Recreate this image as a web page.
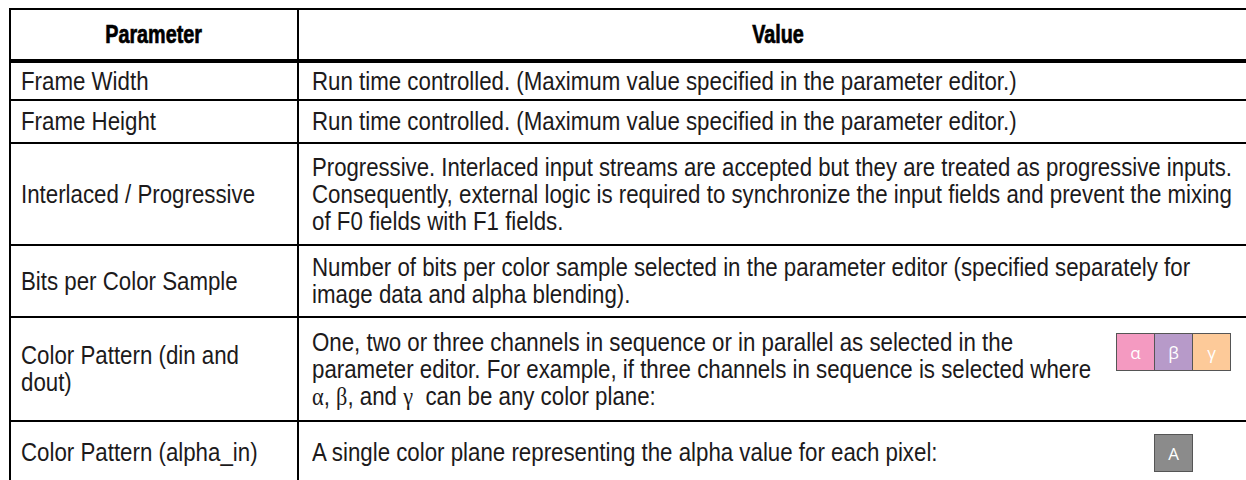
<!DOCTYPE html>
<html>
<head>
<meta charset="utf-8">
<script src="https://cdn.jsdelivr.net/npm/chart.js@4.4.1/dist/chart.umd.min.js"></script>
<style>
  html, body { margin: 0; padding: 0; background: #fff; overflow: hidden; }
  body { width: 1246px; height: 480px; position: relative; }
  table {
    position: absolute; left: 9px; top: 8px;
    width: 1250px; table-layout: fixed; border-collapse: collapse;
    font-family: "Liberation Sans", Arial, sans-serif;
    font-size: 26px; color: #1c1a1b;
  }
  col.c1 { width: 288px; }
  th, td { border: 2px solid #000; line-height: 27px; vertical-align: middle; white-space: nowrap; padding: 0; overflow: visible; }
  th { font-weight: 700; text-align: center; color: #000; border-bottom-width: 4px; font-size: 26px; }
  td.p { padding-left: 10px; }
  td.v { padding-left: 13px; position: relative; }
  .ln { display: inline-block; transform: scaleX(0.857); transform-origin: 0 50%; }
  th .ln { transform: scaleX(0.76); transform-origin: 50% 50%; -webkit-text-stroke: 0.7px #000; }
  tr.r0 { height: 52px; }
  tr.r1 { height: 39px; }
  tr.r2 { height: 43px; }
  tr.r3 { height: 102px; }
  tr.r4 { height: 72px; }
  tr.r5 { height: 104px; }
  tr.r6 { height: 62px; }
  .sym {
    display: inline-block; height: 18px; line-height: 18px; overflow: visible;
    font-family: "Liberation Serif", "DejaVu Serif", serif; font-size: 26px;
  }
  .swatch { position: absolute; display: flex; }
  .swatch span {
    width: 37px; height: 36px; border: 1px solid #555; margin-left: -1px;
    color: #fff; font-family: "Open Sans", "DejaVu Sans", sans-serif; font-size: 17px; line-height: 1;
    display: flex; align-items: center; justify-content: center;
  }
  .din { left: 818px; top: 15px; }
  .alpha { left: 856px; top: 12px; }
</style>
</head>
<body>
<table id="paramTable">
  <colgroup><col class="c1"><col class="c2"></colgroup>
  <thead></thead>
  <tbody></tbody>
</table>
<script>
// -------------------- DATA --------------------
const headers = ["Parameter", "Value"];

const parameters = [
  ["Frame Width"],
  ["Frame Height"],
  ["Interlaced / Progressive"],
  ["Bits per Color Sample"],
  ["Color Pattern (din and", "dout)"],
  ["Color Pattern (alpha_in)"]
];

const values = [
  ["Run time controlled. (Maximum value specified in the parameter editor.)"],
  ["Run time controlled. (Maximum value specified in the parameter editor.)"],
  ["Progressive. Interlaced input streams are accepted but they are treated as progressive inputs.",
   "Consequently, external logic is required to synchronize the input fields and prevent the mixing",
   "of F0 fields with F1 fields."],
  ["Number of bits per color sample selected in the parameter editor (specified separately for",
   "image data and alpha blending)."],
  ["One, two or three channels in sequence or in parallel as selected in the",
   "parameter editor. For example, if three channels in sequence is selected where",
   "α, β, and γ  can be any color plane:"],
  ["A single color plane representing the alpha value for each pixel:"]
];

const dinChannels = ["α", "β", "γ"];
const dinColors = ["#f49ac1", "#b79ac9", "#fdca99"];
const alphaChannels = ["A"];
const alphaColors = ["#8b8b8b"];

// -------------------- BUILD --------------------
function esc(s) {
  return s.replace(/&/g, "&amp;").replace(/</g, "&lt;").replace(/ {2}/g, " &nbsp;");
}

function line(s) {
  const html = esc(s).replace(/([αβγ])/g, '<span class="sym">$1</span>');
  return `<span class="ln">${html}</span>`;
}

function swatch(cls, labels, colors) {
  return `<div class="swatch ${cls}">` +
    labels.map((l, i) => `<span style="background:${colors[i]}">${l}</span>`).join("") +
    `</div>`;
}

const table = document.getElementById("paramTable");
table.tHead.innerHTML = `<tr class="r0">${headers.map(h => `<th>${line(h)}</th>`).join("")}</tr>`;

table.tBodies[0].innerHTML = parameters.map((p, i) => {
  let extra = "";
  if (i === 4) extra = swatch("din", dinChannels, dinColors);
  if (i === 5) extra = swatch("alpha", alphaChannels, alphaColors);
  return `<tr class="r${i + 1}">
    <td class="p">${p.map(line).join("<br>")}</td>
    <td class="v">${values[i].map(line).join("<br>")}${extra}</td>
  </tr>`;
}).join("");

// squeeze any value line that would run past the right edge of the page
const maxRight = 1232;
document.querySelectorAll("td.v .ln").forEach((el) => {
  const r = el.getBoundingClientRect();
  if (r.right > maxRight) {
    const k = 0.857 * (maxRight - r.left) / r.width;
    el.style.transform = `scaleX(${k.toFixed(4)})`;
  }
});
</script>
</body>
</html>
